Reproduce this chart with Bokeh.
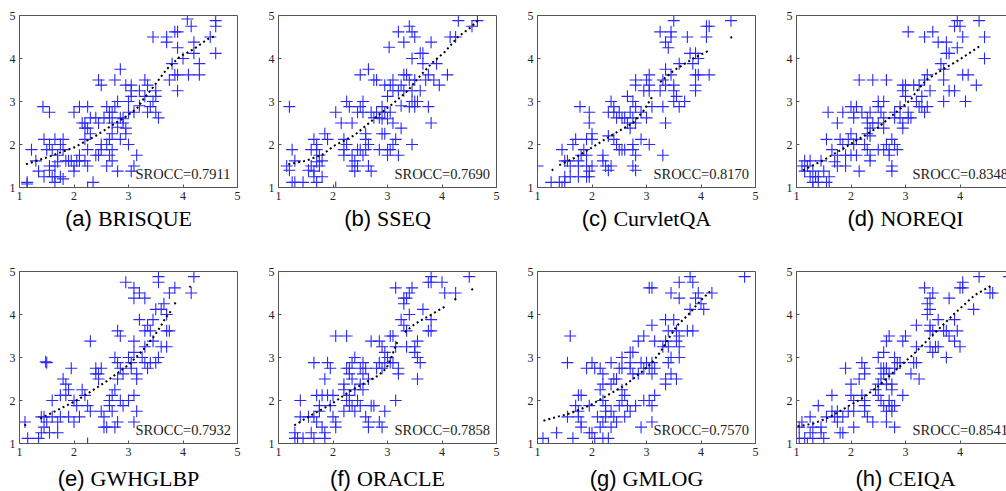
from bokeh.plotting import figure
from bokeh.layouts import column, row
from bokeh.models import Label, LinearAxis, Range1d, FixedTicker
from bokeh.embed import file_html
from bokeh.resources import INLINE

NAN = float("nan")

letters = ["a", "b", "c", "d", "e", "f", "g", "h"]
names = ["BRISQUE", "SSEQ", "CurvletQA", "NOREQI", "GWHGLBP", "ORACLE", "GMLOG", "CEIQA"]
srocc = ["0.7911", "0.7690", "0.8170", "0.8348", "0.7932", "0.7858", "0.7570", "0.8541"]
ticks = [1, 2, 3, 4, 5]

brisque_pts = [
    (4.08, 4.92), (4.15, 4.75), (4.6, 4.88), (4.6, 4.75), (4.5, 4.5), (4.6, 4.12), (3.45, 4.5),
    (3.7, 4.5), (3.7, 4.38), (3.85, 4.62), (3.9, 4.62), (3.9, 4.25), (4.2, 4.38), (4.2, 4.12),
    (4.0, 4.0), (3.8, 3.88), (4.3, 3.88), (3.75, 3.5), (3.85, 3.62), (3.9, 3.62), (4.1, 3.62),
    (4.3, 3.62), (3.9, 3.25), (3.5, 3.25), (3.45, 3.0), (3.5, 2.75), (3.55, 2.62), (3.5, 3.12),
    (3.3, 3.5), (3.35, 3.38), (3.2, 3.25), (3.3, 3.12), (3.2, 2.9), (3.4, 2.88), (3.35, 2.75),
    (3.05, 3.38), (3.05, 3.25), (3.05, 3.12), (2.95, 3.38), (3.0, 3.0), (3.0, 2.75), (3.1, 2.75),
    (2.9, 2.6), (2.85, 3.75), (2.75, 3.5), (2.45, 3.5), (2.5, 3.38), (2.8, 3.0), (2.75, 2.88),
    (2.7, 2.75), (2.65, 2.62), (2.7, 2.5), (2.8, 2.4), (2.6, 2.88), (2.65, 2.75), (2.55, 2.62),
    (2.85, 2.62), (2.9, 2.5), (2.95, 2.38), (2.95, 2.25), (2.85, 2.12), (2.7, 2.25), (2.65, 2.12),
    (2.6, 2.0), (2.7, 1.88), (2.65, 1.75), (2.7, 1.62), (2.6, 1.5), (2.5, 1.88), (2.45, 1.75),
    (2.4, 1.75), (2.5, 2.0), (2.8, 1.38), (3.0, 2.0), (3.15, 1.75), (3.1, 1.5), (3.05, 1.38),
    (2.35, 1.12), (2.25, 1.0), (2.3, 2.25), (2.2, 2.12), (2.25, 2.38), (2.2, 2.5), (2.3, 2.62),
    (2.4, 2.62), (2.45, 2.5), (2.25, 1.88), (2.1, 1.75), (2.2, 1.62), (2.25, 1.5), (2.0, 1.5),
    (2.1, 1.62), (2.0, 2.75), (2.1, 2.88), (2.25, 2.88), (2.15, 2.5), (2.2, 2.38), (1.8, 2.12),
    (1.75, 2.0), (1.95, 1.62), (2.0, 1.38), (1.9, 1.62), (2.05, 1.62), (1.85, 1.62), (1.8, 1.88),
    (1.7, 1.75), (1.65, 2.12), (1.6, 1.88), (1.55, 2.0), (1.55, 1.5), (1.5, 1.88), (1.45, 2.12),
    (1.65, 1.25), (1.65, 1.12), (1.6, 1.25), (1.75, 1.25), (1.8, 1.2), (1.45, 1.25), (1.55, 1.4),
    (1.35, 1.38), (1.3, 1.62), (1.43, 2.88), (1.55, 2.75), (1.22, 1.88), (1.14, 1.12), (1.14, 1.08),
    (1.7, 1.6), (1.65, 1.5),
]
brisque_fit = [
    (1.12, 1.54), (1.5, 1.7), (2.0, 1.93), (2.4, 2.2), (2.75, 2.49), (2.95, 2.65), (3.15, 2.83),
    (3.3, 3.1), (3.45, 3.33), (3.7, 3.75), (3.95, 4.05), (4.2, 4.22), (4.45, 4.45), (4.6, 4.53),
]

sseq_pts = [
    (1.2, 2.88), (1.15, 1.5), (1.2, 1.4), (1.25, 1.88), (1.3, 1.62), (1.25, 1.12), (1.3, 1.12),
    (1.45, 1.12), (1.55, 1.4), (1.6, 1.5), (1.6, 1.88), (1.7, 1.88), (1.65, 2.12), (1.7, 2.0),
    (1.75, 1.75), (1.8, 1.62), (1.7, 1.6), (1.75, 1.5), (1.65, 1.25), (1.7, 1.12), (1.8, 1.25),
    (1.65, 1.38), (1.85, 2.25), (1.9, 2.12), (2.05, 2.75), (2.15, 2.5), (2.2, 2.12), (2.25, 2.0),
    (2.2, 1.88), (2.2, 1.75), (2.05, 1.0), (2.25, 3.0), (2.3, 2.88), (2.35, 2.5), (2.45, 2.75),
    (2.5, 2.88), (2.55, 3.0), (2.55, 2.75), (2.5, 3.62), (2.65, 3.75), (2.75, 3.5), (2.8, 3.5),
    (2.35, 1.75), (2.4, 1.62), (2.35, 1.5), (2.45, 1.5), (2.4, 1.38), (2.5, 1.88), (2.55, 1.75),
    (2.45, 1.88), (2.6, 2.25), (2.6, 2.12), (2.65, 2.0), (2.6, 1.88), (2.65, 1.5), (2.7, 1.38),
    (2.7, 2.75), (2.75, 2.62), (2.8, 2.75), (2.85, 2.62), (2.9, 2.88), (2.95, 2.75), (2.9, 2.6),
    (2.85, 1.88), (2.9, 2.25), (2.95, 2.25), (3.0, 1.88), (3.0, 1.75), (3.05, 1.88), (3.1, 2.0),
    (3.15, 2.12), (2.95, 3.38), (3.0, 3.12), (3.05, 3.38), (3.1, 3.5), (3.1, 3.25), (3.0, 2.6),
    (3.1, 2.5), (3.05, 2.75), (3.03, 4.26), (3.2, 4.62), (3.3, 4.38), (3.4, 4.75), (3.45, 4.62),
    (3.5, 4.5), (3.45, 4.0), (3.6, 4.12), (3.65, 4.12), (3.65, 3.88), (3.3, 3.62), (3.35, 3.62),
    (3.4, 3.5), (3.25, 3.38), (3.3, 3.25), (3.2, 3.25), (3.5, 3.5), (3.45, 3.25), (3.25, 2.9),
    (3.4, 2.88), (3.5, 3.0), (3.55, 3.0), (3.45, 3.0), (3.5, 2.88), (3.25, 2.38), (3.2, 1.75),
    (3.45, 2.0), (3.6, 3.25), (3.7, 3.5), (3.75, 3.62), (3.8, 4.38), (3.75, 2.88), (3.8, 2.5),
    (3.9, 3.88), (3.95, 3.38), (4.1, 3.62), (4.15, 4.5), (4.25, 4.5), (4.3, 4.88), (4.55, 4.75),
    (4.65, 4.88), (3.85, 3.5),
]
sseq_fit = [
    (1.18, 1.54), (1.5, 1.62), (1.8, 1.76), (2.02, 1.97), (2.4, 2.22), (2.82, 2.67), (3.1, 2.95),
    (3.37, 3.25), (3.6, 3.6), (3.83, 3.91), (4.05, 4.15), (4.29, 4.5), (4.5, 4.7), (4.66, 4.88),
]

curvlet_pts = [
    (1.0, 1.5), (1.25, 1.12), (1.4, 1.12), (1.5, 1.12), (1.45, 1.0), (1.5, 1.25), (1.6, 1.25),
    (1.75, 1.25), (1.9, 1.25), (1.95, 1.25), (1.45, 1.88), (1.5, 1.62), (1.55, 1.62), (1.6, 1.5),
    (1.65, 2.0), (1.7, 2.12), (1.75, 1.62), (1.75, 1.5), (1.8, 1.75), (1.78, 2.88), (1.95, 2.75),
    (1.95, 2.5), (1.9, 2.12), (1.85, 1.88), (1.9, 1.75), (2.0, 2.25), (2.0, 2.12), (2.0, 1.5),
    (1.95, 1.38), (1.9, 1.5), (2.2, 1.75), (2.2, 1.62), (2.25, 1.5), (2.35, 1.5), (2.3, 1.4),
    (2.35, 3.0), (2.4, 2.88), (2.4, 2.75), (2.45, 2.62), (2.3, 2.75), (2.5, 2.75), (2.3, 2.2),
    (2.4, 2.12), (2.45, 2.0), (2.55, 1.88), (2.6, 1.88), (2.5, 1.88), (2.55, 2.62), (2.65, 2.5),
    (2.7, 2.38), (2.6, 2.62), (2.7, 2.75), (2.65, 3.12), (2.75, 3.0), (2.8, 2.88), (2.75, 2.62),
    (2.8, 2.5), (2.75, 2.0), (2.75, 1.88), (2.8, 1.75), (2.75, 1.5), (2.8, 1.4), (2.8, 3.5),
    (2.8, 3.38), (2.95, 3.25), (3.0, 3.5), (3.05, 3.62), (3.05, 3.38), (3.05, 3.25), (2.9, 2.75),
    (3.0, 2.62), (2.9, 2.12), (3.05, 2.0), (3.1, 2.88), (3.25, 4.62), (3.35, 4.38), (3.4, 4.25),
    (3.45, 4.62), (3.5, 4.88), (3.45, 4.5), (3.35, 3.75), (3.3, 3.5), (3.35, 3.38), (3.3, 2.88),
    (3.35, 2.5), (3.3, 1.75), (3.45, 3.62), (3.5, 3.25), (3.55, 3.12), (3.5, 3.0), (3.6, 2.88),
    (3.7, 3.0), (3.5, 3.38), (3.6, 3.88), (3.75, 4.5), (3.8, 4.12), (3.85, 3.88), (3.9, 4.12),
    (3.95, 4.0), (3.9, 3.62), (3.95, 3.62), (3.9, 3.38), (3.9, 3.25), (4.1, 4.75), (4.15, 4.75),
    (4.1, 4.5), (4.15, 3.62), (4.55, 4.88), (3.25, 3.25),
]
curvlet_fit = [
    (1.26, 1.4), (1.29, 1.42), (NAN, NAN),
    (1.4, 1.52), (1.7, 1.7), (2.0, 1.93), (2.34, 2.2), (2.76, 2.51), (2.95, 2.79), (3.1, 3.1),
    (NAN, NAN),
    (3.25, 3.45), (3.5, 3.72), (3.87, 4.01), (4.17, 4.2), (NAN, NAN),
    (4.54, 4.48), (4.57, 4.5),
]

noreqi_pts = [
    (1.1, 1.5), (1.15, 1.62), (1.2, 1.5), (1.15, 1.38), (1.25, 1.62), (1.3, 1.38), (1.25, 1.25),
    (1.3, 1.12), (1.35, 1.25), (1.3, 1.0), (1.4, 1.12), (1.4, 1.25), (1.45, 1.62), (1.5, 1.38),
    (1.55, 1.12), (1.6, 1.25), (1.6, 1.0), (1.55, 2.12), (1.58, 2.75), (1.75, 2.5), (1.65, 1.88),
    (1.75, 1.75), (1.8, 2.12), (1.7, 1.6), (1.75, 1.5), (1.85, 2.0), (1.9, 1.5), (1.9, 1.75),
    (1.85, 2.75), (2.0, 2.88), (2.05, 2.75), (2.05, 2.62), (2.1, 2.88), (1.95, 2.12), (2.0, 2.25),
    (2.05, 2.0), (2.1, 2.12), (2.0, 1.75), (2.1, 1.75), (2.15, 1.38), (2.15, 3.5), (2.4, 3.5),
    (2.65, 3.5), (2.2, 2.75), (2.3, 2.62), (2.35, 2.75), (2.3, 2.5), (2.35, 2.38), (2.4, 2.5),
    (2.3, 2.25), (2.35, 2.2), (2.3, 1.88), (2.35, 1.75), (2.35, 1.62), (2.25, 2.0), (2.5, 3.0),
    (2.6, 3.0), (2.5, 2.88), (2.55, 2.75), (2.6, 2.62), (2.6, 2.38), (2.5, 2.5), (2.5, 1.88),
    (2.6, 1.88), (2.65, 2.0), (2.7, 1.88), (2.75, 1.5), (2.75, 1.38), (2.7, 1.75), (2.8, 2.75),
    (2.9, 2.88), (2.9, 2.62), (2.8, 2.62), (2.75, 2.12), (2.8, 2.0), (2.85, 1.88), (2.95, 3.38),
    (2.95, 3.25), (3.0, 3.38), (3.0, 3.12), (2.95, 2.5), (2.95, 2.38), (3.05, 2.75), (3.05, 2.62),
    (3.1, 2.62), (3.05, 4.62), (3.15, 3.38), (3.25, 3.38), (3.2, 3.0), (3.3, 3.12), (3.3, 2.88),
    (3.35, 2.75), (3.25, 2.88), (3.4, 2.88), (3.35, 3.5), (3.4, 3.62), (3.45, 3.25), (3.35, 4.5),
    (3.5, 4.62), (3.6, 4.38), (3.75, 4.38), (3.75, 4.12), (3.8, 4.12), (3.65, 3.88), (3.7, 3.75),
    (3.7, 3.0), (3.8, 3.25), (3.9, 3.25), (3.7, 3.5), (3.9, 4.75), (3.95, 4.88), (4.0, 4.75),
    (3.95, 4.25), (4.05, 4.5), (4.05, 3.62), (4.15, 3.62), (4.1, 3.0), (4.35, 4.88), (4.45, 4.5),
    (4.45, 4.0), (4.3, 3.38),
]
noreqi_fit = [
    (1.12, 1.4), (1.5, 1.64), (1.85, 1.9), (2.17, 2.15), (2.5, 2.4), (2.9, 2.83), (3.1, 3.05),
    (3.21, 3.25), (3.4, 3.52), (3.7, 3.76), (4.0, 3.98), (4.2, 4.15), (4.38, 4.3),
]

gwhglbp_pts = [
    (1.1, 1.5), (1.15, 1.12), (1.35, 1.12), (1.4, 1.62), (1.45, 1.62), (1.4, 1.25), (1.45, 1.38),
    (1.5, 1.5), (1.55, 1.25), (1.5, 2.88), (1.48, 2.9), (1.6, 1.62), (1.6, 2.0), (1.7, 1.5),
    (1.7, 1.25), (1.75, 1.62), (1.75, 2.12), (1.8, 2.5), (1.85, 2.38), (1.9, 2.25), (1.85, 2.12),
    (1.95, 2.75), (1.9, 1.62), (2.0, 2.0), (2.05, 1.88), (2.1, 1.62), (2.0, 1.5), (2.15, 2.25),
    (2.2, 2.12), (2.25, 1.88), (2.3, 1.75), (2.25, 1.0), (2.3, 3.38), (2.4, 2.75), (2.45, 2.62),
    (2.5, 2.75), (2.45, 2.5), (2.4, 2.62), (2.5, 1.75), (2.55, 1.62), (2.6, 1.38), (2.55, 1.38),
    (2.65, 2.0), (2.7, 2.12), (2.65, 1.88), (2.7, 1.75), (2.75, 1.38), (2.8, 1.5), (2.75, 3.0),
    (2.8, 3.62), (2.85, 3.5), (2.8, 2.88), (2.85, 2.75), (2.9, 2.62), (2.8, 2.5), (2.75, 2.25),
    (2.85, 2.0), (2.9, 1.88), (2.95, 4.75), (3.1, 4.62), (3.1, 4.38), (3.2, 4.5), (3.3, 4.38),
    (3.0, 3.0), (3.05, 2.88), (3.05, 2.75), (3.1, 3.12), (3.1, 3.38), (3.15, 2.62), (3.15, 2.5),
    (3.0, 2.0), (3.1, 2.12), (3.1, 1.5), (3.15, 1.75), (3.2, 3.88), (3.3, 3.62), (3.35, 3.75),
    (3.4, 3.62), (3.3, 3.25), (3.25, 3.0), (3.3, 2.88), (3.4, 2.88), (3.35, 2.75), (3.5, 2.88),
    (3.45, 3.38), (3.55, 4.88), (3.55, 4.75), (3.5, 4.12), (3.45, 3.88), (3.6, 4.12), (3.65, 4.25),
    (3.7, 4.0), (3.75, 4.5), (3.85, 4.62), (3.6, 3.25), (3.7, 3.62), (3.75, 3.62), (3.7, 3.25),
    (3.55, 3.0), (4.15, 4.5), (4.2, 4.88),
]
gwhglbp_fit = [
    (1.09, 1.42), (1.12, 1.44), (NAN, NAN),
    (1.38, 1.58), (1.7, 1.78), (2.0, 1.97), (2.25, 2.16), (2.6, 2.45), (3.02, 2.85), (3.25, 3.15),
    (3.48, 3.51), (3.6, 3.75), (3.69, 3.94), (3.78, 4.08), (NAN, NAN),
    (3.84, 4.25), (3.87, 4.27), (NAN, NAN),
    (4.12, 4.63), (4.14, 4.66),
]

oracle_pts = [
    (1.3, 1.12), (1.3, 1.25), (1.35, 1.12), (1.45, 1.12), (1.4, 1.62), (1.4, 2.0), (1.55, 1.62),
    (1.6, 1.25), (1.65, 1.12), (1.65, 1.62), (1.7, 1.5), (1.7, 2.12), (1.65, 2.88), (1.75, 1.88),
    (1.8, 2.12), (1.75, 1.75), (1.8, 1.38), (1.85, 1.25), (1.85, 1.12), (1.85, 2.5), (1.9, 2.88),
    (1.95, 2.75), (1.9, 2.12), (1.95, 1.88), (2.0, 1.62), (2.05, 1.5), (2.05, 1.38), (2.0, 2.12),
    (2.05, 3.5), (2.25, 3.5), (2.2, 2.38), (2.2, 2.25), (2.25, 2.0), (2.3, 2.12), (2.2, 1.75),
    (2.25, 2.75), (2.3, 2.62), (2.3, 2.75), (2.35, 2.88), (2.4, 3.0), (2.35, 2.5), (2.4, 2.25),
    (2.45, 2.0), (2.35, 1.88), (2.4, 1.75), (2.3, 1.88), (2.5, 2.75), (2.55, 2.88), (2.55, 2.62),
    (2.6, 2.75), (2.65, 2.5), (2.5, 2.38), (2.55, 2.25), (2.5, 1.88), (2.6, 1.62), (2.65, 1.5),
    (2.65, 1.38), (2.7, 1.88), (2.75, 1.88), (2.7, 3.38), (2.85, 3.38), (2.9, 3.25), (2.95, 3.12),
    (2.85, 2.88), (2.9, 2.75), (2.8, 2.75), (2.95, 2.88), (3.0, 3.0), (3.05, 2.88), (2.85, 1.5),
    (2.9, 1.38), (2.95, 1.75), (3.05, 3.5), (3.1, 3.5), (3.15, 3.25), (3.2, 2.62), (3.2, 2.75),
    (3.15, 2.0), (3.1, 2.88), (3.15, 4.62), (3.3, 4.38), (3.3, 4.25), (3.35, 4.38), (3.4, 4.5),
    (3.45, 4.62), (3.4, 4.0), (3.25, 3.88), (3.3, 3.75), (3.35, 3.62), (3.35, 3.25), (3.5, 3.25),
    (3.5, 3.12), (3.55, 3.0), (3.6, 2.88), (3.55, 3.38), (3.55, 2.5), (3.75, 4.75), (3.8, 4.88),
    (3.8, 4.75), (4.0, 4.75), (4.05, 4.5), (4.25, 4.5), (3.65, 4.12), (3.8, 3.88), (3.8, 3.62),
    (3.75, 3.62), (4.5, 4.88),
]
oracle_fit = [
    (1.29, 1.42), (1.6, 1.66), (1.95, 1.9), (2.34, 2.24), (2.6, 2.42), (2.83, 2.58), (2.98, 2.75),
    (3.07, 3.0), (3.13, 3.2), (3.19, 3.39), (NAN, NAN),
    (3.32, 3.59), (3.5, 3.78), (3.74, 3.95), (4.05, 4.18), (NAN, NAN),
    (4.23, 4.34), (4.26, 4.37), (NAN, NAN),
    (4.54, 4.57), (4.57, 4.6),
]

gmlog_pts = [
    (1.1, 1.12), (1.2, 1.0), (1.35, 1.25), (1.55, 1.62), (1.55, 2.88), (1.6, 3.5), (1.65, 1.12),
    (1.7, 1.88), (1.75, 2.12), (1.8, 2.12), (1.75, 1.62), (1.8, 1.5), (1.8, 1.38), (1.75, 1.75),
    (1.9, 2.75), (1.95, 1.25), (2.0, 1.25), (1.95, 1.88), (2.0, 2.88), (2.05, 2.75), (2.1, 1.62),
    (2.15, 1.38), (2.05, 1.12), (2.15, 2.75), (2.2, 2.62), (2.2, 2.38), (2.15, 2.25), (2.2, 2.0),
    (2.25, 1.88), (2.25, 1.75), (2.25, 1.62), (2.2, 1.5), (2.2, 1.12), (2.3, 1.12), (2.35, 2.88),
    (2.4, 2.5), (2.35, 2.38), (2.45, 2.5), (2.5, 2.75), (2.4, 1.62), (2.35, 1.75), (2.45, 1.5),
    (2.35, 1.38), (2.55, 3.0), (2.55, 2.75), (2.55, 2.25), (2.6, 2.12), (2.55, 2.0), (2.5, 1.88),
    (2.6, 1.62), (2.7, 3.12), (2.75, 3.12), (2.7, 2.75), (2.75, 2.62), (2.7, 2.88), (2.65, 1.88),
    (2.7, 1.75), (2.8, 1.88), (2.85, 3.38), (2.95, 3.5), (2.9, 2.88), (2.95, 2.75), (2.85, 2.62),
    (3.0, 2.88), (3.05, 2.75), (3.1, 2.88), (2.95, 2.0), (3.05, 2.0), (2.9, 1.38), (3.05, 4.62),
    (3.1, 4.62), (3.1, 3.75), (3.15, 3.38), (3.15, 2.75), (3.1, 2.62), (3.15, 2.12), (3.1, 1.88),
    (3.1, 1.5), (3.35, 3.88), (3.4, 3.62), (3.35, 3.38), (3.3, 3.25), (3.4, 3.25), (3.45, 3.0),
    (3.4, 2.88), (3.45, 2.62), (3.35, 2.5), (3.35, 2.38), (3.45, 4.5), (3.5, 3.88), (3.55, 3.62),
    (3.6, 3.5), (3.6, 3.25), (3.6, 3.0), (3.55, 2.5), (3.55, 3.38), (3.6, 4.75), (3.6, 4.38),
    (3.8, 4.88), (3.85, 4.75), (3.9, 4.38), (3.95, 4.5), (4.0, 4.25), (4.05, 4.12), (3.75, 3.62),
    (3.85, 3.62), (3.8, 4.12), (4.2, 4.5), (4.8, 4.88),
]
gmlog_fit = [
    (1.11, 1.53), (1.3, 1.6), (1.48, 1.66), (1.6, 1.7), (1.95, 1.88), (2.34, 2.16), (2.6, 2.35),
    (2.89, 2.64), (3.1, 2.88), (3.25, 3.12), (3.38, 3.39), (3.56, 3.74), (3.77, 4.0), (3.99, 4.32),
    (4.17, 4.54),
]

ceiqa_pts = [
    (1.05, 1.38), (1.1, 1.5), (1.05, 1.12), (1.15, 1.12), (1.2, 1.0), (1.25, 1.62), (1.25, 1.25),
    (1.3, 1.12), (1.3, 1.38), (1.4, 1.88), (1.45, 1.38), (1.45, 1.25), (1.5, 1.12), (1.55, 1.62),
    (1.65, 2.12), (1.65, 1.75), (1.7, 1.62), (1.75, 1.5), (1.8, 1.25), (1.85, 1.25), (1.85, 1.62),
    (1.75, 1.75), (1.9, 2.75), (2.0, 2.38), (2.0, 2.12), (2.05, 2.0), (2.05, 1.75), (2.05, 1.38),
    (1.95, 1.75), (2.15, 2.5), (2.2, 2.88), (2.25, 2.75), (2.25, 2.62), (2.2, 2.12), (2.25, 2.0),
    (2.25, 1.75), (2.3, 1.62), (2.25, 1.88), (2.4, 1.5), (2.45, 2.25), (2.5, 2.38), (2.5, 2.12),
    (2.5, 3.0), (2.55, 2.75), (2.55, 2.5), (2.6, 2.75), (2.6, 2.62), (2.65, 2.75), (2.7, 2.62),
    (2.6, 3.12), (2.65, 3.38), (2.7, 3.5), (2.65, 2.38), (2.55, 2.0), (2.6, 1.88), (2.65, 1.75),
    (2.7, 2.0), (2.7, 1.88), (2.75, 1.88), (2.75, 1.75), (2.8, 1.88), (2.65, 1.5), (2.8, 1.38),
    (2.75, 2.25), (2.75, 2.38), (2.8, 2.75), (2.85, 2.88), (2.9, 2.88), (2.8, 3.0), (2.95, 3.38),
    (3.0, 3.5), (2.95, 2.12), (3.1, 2.62), (3.15, 2.88), (3.2, 2.88), (3.25, 2.5), (3.2, 3.25),
    (3.2, 3.75), (3.35, 4.62), (3.4, 4.25), (3.45, 4.38), (3.45, 4.12), (3.5, 4.5), (3.4, 4.0),
    (3.45, 3.75), (3.45, 3.62), (3.5, 3.62), (3.45, 3.25), (3.5, 3.12), (3.55, 3.25), (3.6, 3.25),
    (3.7, 3.62), (3.75, 3.62), (3.8, 3.5), (3.75, 3.0), (3.9, 3.38), (3.6, 3.88), (3.8, 4.38),
    (3.9, 3.88), (3.95, 3.62), (4.0, 3.25), (4.0, 4.62), (4.05, 4.75), (4.05, 4.62), (4.35, 4.88),
    (4.25, 4.12), (4.55, 4.5), (4.6, 4.5), (4.9, 4.88),
]
ceiqa_fit = [
    (1.02, 1.4), (1.3, 1.46), (1.62, 1.62), (1.98, 1.89), (2.2, 2.05), (2.48, 2.31), (2.78, 2.66),
    (3.15, 3.08), (3.52, 3.55), (3.89, 4.01), (4.26, 4.44), (4.57, 4.67),
]

all_pts = [brisque_pts, sseq_pts, curvlet_pts, noreqi_pts, gwhglbp_pts, oracle_pts, gmlog_pts, ceiqa_pts]
all_fit = [brisque_fit, sseq_fit, curvlet_fit, noreqi_fit, gwhglbp_fit, oracle_fit, gmlog_fit, ceiqa_fit]

# approximate glyph advance widths (em) used to centre the two-font captions
SANS_W = {"(": 0.333, ")": 0.333, "a": 0.556, "b": 0.556, "c": 0.5, "d": 0.556,
          "e": 0.556, "f": 0.278, "g": 0.556, "h": 0.556}
SERIF_W = {"A": 0.722, "B": 0.667, "C": 0.667, "D": 0.722, "E": 0.611, "G": 0.722,
           "H": 0.722, "I": 0.333, "L": 0.611, "M": 0.889, "N": 0.722, "O": 0.722,
           "P": 0.556, "Q": 0.722, "R": 0.667, "S": 0.556, "U": 0.722, "W": 0.944,
           "l": 0.278, "r": 0.333, "t": 0.278, "u": 0.5, "v": 0.5, "e": 0.444}

FRAME_W = 218
FRAME_H = 172
CELL_W = 259
TOTAL_W = 1006
LEFT = 19
AX_COL = "#555555"
TXT_COL = "#222222"
MARK_COL = "#2828ff"
CAP_SIZE = 22
PLOT_H = 207               # top border 15 + frame 172 + bottom 20
CAP_H = [49, 28]           # caption strip heights for the two rows
CAP_MID = [38, 13]         # caption vertical middle above strip bottom
SROCC_MID = 14             # SROCC text middle above frame bottom


def style_axis(ax):
    ax.ticker = ticks
    ax.axis_line_color = AX_COL
    ax.axis_line_width = 1
    ax.major_tick_line_color = AX_COL
    ax.major_tick_in = 3
    ax.major_tick_out = 0
    ax.minor_tick_line_color = None
    ax.major_label_text_font = "Liberation Serif"
    ax.major_label_text_font_size = "12px"
    ax.major_label_text_color = TXT_COL
    ax.major_label_standoff = 4


def cell_width(c):
    return TOTAL_W - 3 * CELL_W if c == 3 else CELL_W


def make_panel(i):
    r, c = divmod(i, 4)
    last = c == 3
    w = cell_width(c)
    fw = w - LEFT if last else FRAME_W
    x_end = 1 + 4 * fw / FRAME_W
    p = figure(width=w, height=PLOT_H, x_range=Range1d(1, x_end), y_range=Range1d(1, 5),
               output_backend="svg", toolbar_location=None,
               min_border_left=LEFT, min_border_right=0 if last else w - LEFT - FRAME_W,
               min_border_top=15, min_border_bottom=20)
    p.background_fill_color = "white"
    p.border_fill_color = "white"
    p.xgrid.grid_line_color = None
    p.ygrid.grid_line_color = None
    style_axis(p.xaxis[0])
    style_axis(p.yaxis[0])
    if last:
        p.outline_line_color = None
        top_ax = LinearAxis(ticker=FixedTicker(ticks=[]), axis_line_color=AX_COL,
                            major_tick_in=0, major_tick_out=0, minor_tick_line_color=None,
                            major_label_standoff=0)
        p.add_layout(top_ax, "above")
    else:
        p.outline_line_color = AX_COL
        p.outline_line_width = 1

    pts = all_pts[i]
    p.scatter([q[0] for q in pts], [q[1] for q in pts], marker="cross", size=12,
              line_color=MARK_COL, line_width=1.1)

    fit = all_fit[i]
    p.line([q[0] for q in fit], [q[1] for q in fit], line_color="black",
           line_width=2, line_dash="2 3")

    p.add_layout(Label(x=116, y=SROCC_MID, x_units="screen", y_units="screen",
                       text="SROCC=" + srocc[i], text_font="Liberation Serif",
                       text_font_size="14.5px", text_color=TXT_COL,
                       text_align="left", text_baseline="middle"))
    return p


def make_caption(i):
    r, c = divmod(i, 4)
    w = cell_width(c)
    h = CAP_H[r]
    p = figure(width=w, height=h, x_range=Range1d(0, w), y_range=Range1d(0, h),
               output_backend="svg", toolbar_location=None,
               x_axis_location=None, y_axis_location=None, min_border=0)
    p.outline_line_color = None
    p.xgrid.grid_line_color = None
    p.ygrid.grid_line_color = None
    p.background_fill_color = "white"
    p.border_fill_color = "white"
    s1 = "(" + letters[i] + ")"
    s2 = names[i]
    w1 = sum(SANS_W.get(ch, 0.55) for ch in s1) * CAP_SIZE
    w2 = sum(SERIF_W.get(ch, 0.6) for ch in s2) * CAP_SIZE
    gap = 6
    start = LEFT + FRAME_W / 2 - (w1 + gap + w2) / 2
    p.add_layout(Label(x=start, y=CAP_MID[r], x_units="screen", y_units="screen", text=s1,
                       text_font="Liberation Sans", text_font_size=f"{CAP_SIZE}px",
                       text_color="black", text_align="left", text_baseline="middle"))
    p.add_layout(Label(x=start + w1 + gap, y=CAP_MID[r], x_units="screen", y_units="screen",
                       text=s2, text_font="Liberation Serif", text_font_size=f"{CAP_SIZE}px",
                       text_color="black", text_align="left", text_baseline="middle"))
    return p


panels = [make_panel(i) for i in range(8)]
captions = [make_caption(i) for i in range(8)]
layout = column(
    row(*panels[:4]), row(*captions[:4]),
    row(*panels[4:]), row(*captions[4:]),
)

open("out.html", "w").write(file_html(layout, INLINE))
